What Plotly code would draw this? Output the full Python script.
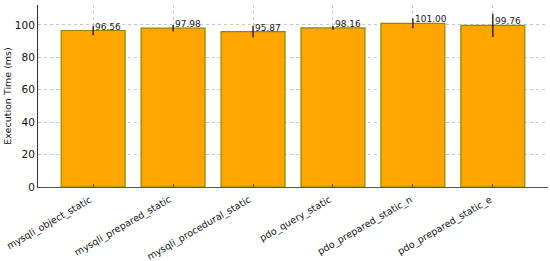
import plotly.graph_objects as go

categories = ["mysqli_object_static", "mysqli_prepared_static", "mysqli_procedural_static",
              "pdo_query_static", "pdo_prepared_static_n", "pdo_prepared_static_e"]
means = [96.56, 97.98, 95.87, 98.16, 101.00, 99.76]
errors = [3.0, 2.0, 3.7, 1.2, 3.0, 7.2]
y_ticks = [0, 20, 40, 60, 80, 100]

xs = list(range(len(categories)))

fig = go.Figure()
fig.add_trace(go.Bar(
    x=xs, y=means, width=0.8,
    marker=dict(color="#FFA500", line=dict(color="#8c8a00", width=1.2)),
    error_y=dict(type="data", array=errors, visible=True, color="black", thickness=1.2, width=0),
    showlegend=False,
))

for x, m in zip(xs, means):
    fig.add_annotation(x=x, y=m, text=f"{m:.2f}", showarrow=False,
                       xanchor="left", yanchor="bottom", xshift=0, yshift=-3,
                       font=dict(family="DejaVu Sans", size=9, color="#1a1a1a"))

# rotated category labels (matplotlib-style: rotated box's top-right at the tick)
for x, c in zip(xs, categories):
    fig.add_annotation(x=x, y=0, yref="y", text=c, showarrow=False, textangle=-30,
                       xanchor="right", yanchor="top", xshift=3, yshift=-4,
                       font=dict(family="DejaVu Sans", size=9.5, color="#111"))

fig.update_layout(
    width=550, height=261,
    margin=dict(l=38, r=2, t=5, b=74, autoexpand=False),
    plot_bgcolor="white", paper_bgcolor="white",
    font=dict(family="DejaVu Sans", size=10, color="#111"),
    bargap=0.2,
)
fig.update_xaxes(
    range=[-0.69, 5.69], tickmode="array", tickvals=xs, showticklabels=False,
    showgrid=True, gridcolor="#c8c8c8", griddash="dot", gridwidth=1,
    showline=True, linecolor="#555", linewidth=1, ticks="inside", ticklen=3, tickcolor="#555",
    zeroline=False, automargin=False,
)
fig.update_yaxes(
    range=[0, 112.3], tickvals=y_ticks, showgrid=True, gridcolor="#c8c8c8", griddash="dot",
    gridwidth=1, showline=True, linecolor="#333", linewidth=1, ticks="",
    title=dict(text="Execution Time (ms)", font=dict(size=9.5), standoff=1),
    tickfont=dict(size=10.5), zeroline=False, automargin=False,
)

fig.write_html("out.html", config={"displayModeBar": False},
               post_script="document.body.style.margin='0';document.body.style.overflow='hidden';")
